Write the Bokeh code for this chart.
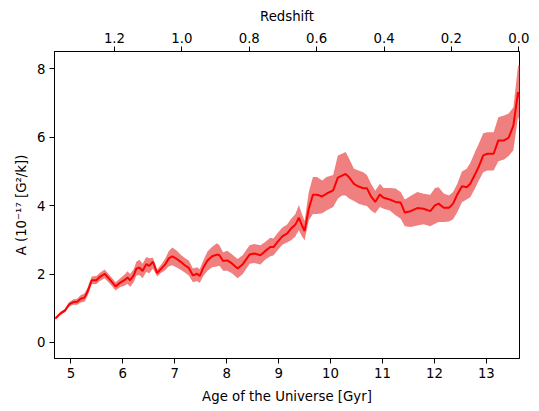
from bokeh.plotting import figure
from bokeh.models import Range1d, LinearAxis, FixedTicker, PrintfTickFormatter, ColumnDataSource
from bokeh.embed import file_html
from bokeh.resources import INLINE

# Age of the Universe [Gyr]
age = [4.70, 4.80, 4.89, 4.97, 5.05, 5.12, 5.19, 5.26, 5.32, 5.40, 5.49, 5.56, 5.65, 5.76, 5.86, 5.95,
       6.03, 6.09, 6.14, 6.21, 6.26, 6.32, 6.38, 6.45, 6.51, 6.58, 6.66, 6.74, 6.82, 6.88, 6.95, 7.03,
       7.12, 7.20, 7.27, 7.35, 7.43, 7.48, 7.55, 7.63, 7.72, 7.81, 7.86, 7.93, 8.01, 8.10, 8.21, 8.31,
       8.44, 8.53, 8.65, 8.74, 8.84, 8.90, 8.98, 9.07, 9.16, 9.24, 9.32, 9.39, 9.45, 9.50, 9.58, 9.66,
       9.74, 9.84, 9.92, 10.05, 10.14, 10.22, 10.29, 10.35, 10.45, 10.54, 10.63, 10.70, 10.78, 10.86,
       10.95, 11.02, 11.14, 11.25, 11.35, 11.43, 11.54, 11.67, 11.79, 11.92, 12.01, 12.08, 12.18, 12.28,
       12.36, 12.44, 12.53, 12.62, 12.69, 12.78, 12.85, 12.94, 13.02, 13.14, 13.23, 13.34, 13.43, 13.52,
       13.61, 13.64]

a_mean = [0.70, 0.85, 0.94, 1.12, 1.18, 1.19, 1.28, 1.31, 1.48, 1.82, 1.82, 1.92, 2.01, 1.82, 1.64, 1.75,
          1.82, 1.90, 1.82, 1.96, 2.16, 2.19, 2.09, 2.29, 2.24, 2.36, 2.03, 2.16, 2.29, 2.45, 2.52, 2.45,
          2.35, 2.25, 2.18, 1.96, 2.01, 1.94, 2.19, 2.40, 2.52, 2.57, 2.55, 2.38, 2.40, 2.31, 2.16, 2.29,
          2.57, 2.60, 2.55, 2.67, 2.79, 2.79, 2.94, 3.10, 3.18, 3.33, 3.44, 3.65, 3.42, 3.26, 3.91, 4.32,
          4.32, 4.27, 4.35, 4.45, 4.82, 4.88, 4.93, 4.84, 4.64, 4.56, 4.51, 4.51, 4.27, 4.11,
          4.33, 4.23, 4.18, 4.11, 4.09, 3.80, 3.84, 3.93, 3.91, 3.84, 4.01, 4.06, 3.94, 3.94,
          4.06, 4.33, 4.57, 4.54, 4.64, 4.91, 5.13, 5.47, 5.52, 5.52, 5.91, 5.91, 5.99, 6.34,
          7.32, 7.17]

a_lower = [0.66, 0.80, 0.89, 1.05, 1.10, 1.10, 1.17, 1.19, 1.36, 1.70, 1.71, 1.80, 1.88, 1.70, 1.52, 1.62,
           1.66, 1.72, 1.62, 1.76, 1.96, 1.97, 1.88, 2.06, 2.02, 2.16, 1.93, 2.04, 2.12, 2.22, 2.26, 2.20,
           2.12, 2.04, 1.96, 1.76, 1.80, 1.74, 1.94, 2.10, 2.20, 2.22, 2.24, 2.10, 2.10, 2.02, 1.88, 2.00,
           2.30, 2.32, 2.28, 2.42, 2.52, 2.54, 2.70, 2.86, 2.92, 2.99, 3.10, 3.28, 3.10, 2.99, 3.57, 3.76,
           3.76, 3.78, 3.86, 3.96, 4.20, 4.30, 4.30, 4.22, 4.14, 4.06, 4.01, 3.99, 3.86, 3.78,
           3.96, 3.91, 3.86, 3.72, 3.62, 3.40, 3.38, 3.42, 3.46, 3.40, 3.47, 3.52, 3.52, 3.54,
           3.60, 3.81, 4.10, 4.18, 4.25, 4.50, 4.72, 4.98, 5.03, 5.03, 5.30, 5.35, 5.45, 5.62,
           6.60, 6.44]

a_upper = [0.74, 0.90, 0.99, 1.18, 1.26, 1.28, 1.39, 1.43, 1.60, 1.93, 1.94, 2.04, 2.13, 1.94, 1.76, 1.88,
           1.98, 2.08, 2.00, 2.14, 2.36, 2.42, 2.30, 2.50, 2.46, 2.48, 2.13, 2.28, 2.46, 2.66, 2.78, 2.70,
           2.56, 2.46, 2.40, 2.16, 2.20, 2.14, 2.40, 2.66, 2.80, 2.90, 2.84, 2.64, 2.68, 2.58, 2.44, 2.56,
           2.84, 2.88, 2.84, 2.94, 3.06, 3.04, 3.20, 3.36, 3.44, 3.62, 3.75, 4.02, 3.75, 3.55, 4.40, 4.84,
           4.84, 4.74, 4.84, 4.90, 5.47, 5.52, 5.57, 5.40, 5.08, 5.03, 4.98, 4.90, 4.64, 4.44,
           4.64, 4.52, 4.52, 4.50, 4.40, 4.18, 4.28, 4.40, 4.35, 4.32, 4.52, 4.54, 4.36, 4.30,
           4.40, 4.64, 5.00, 5.08, 5.25, 5.57, 5.80, 6.12, 6.15, 6.15, 6.59, 6.64, 6.70, 6.88,
           8.10, 8.10]

age_ticks = [5, 6, 7, 8, 9, 10, 11, 12, 13]
y_ticks = [0, 2, 4, 6, 8]
z_ticks = [1.2, 1.0, 0.8, 0.6, 0.4, 0.2, 0.0]

FONT = "DejaVu Sans"
FS = "13.3px"

src = ColumnDataSource(dict(age=age, mean=a_mean, lo=a_lower, hi=a_upper))

p = figure(width=539, height=411, output_backend="svg", toolbar_location=None,
           x_range=Range1d(4.684, 13.638), y_range=Range1d(-0.47, 8.51),
           min_border_left=54, min_border_right=20, min_border_top=51, min_border_bottom=53)
p.background_fill_color = "white"
p.border_fill_color = "white"
p.outline_line_color = "black"
p.outline_line_width = 1
p.xgrid.visible = False
p.ygrid.visible = False

bottom = p.below[0]
left = p.left[0]

p.varea(x="age", y1="lo", y2="hi", source=src, fill_color="#f08080", fill_alpha=1.0)
p.line(x="age", y="mean", source=src, line_color="#ff0000", line_width=2)

p.extra_x_ranges = {"z": Range1d(1.378, -0.002)}
top = LinearAxis(x_range_name="z", axis_label="Redshift")
p.add_layout(top, "above")

for ax in [bottom, left, top]:
    ax.major_label_text_font = FONT
    ax.major_label_text_font_size = FS
    ax.major_label_text_color = "black"
    ax.axis_label_text_font = FONT
    ax.axis_label_text_font_size = FS
    ax.axis_label_text_font_style = "normal"
    ax.axis_label_text_color = "black"
    ax.axis_line_color = "black"
    ax.major_tick_line_color = "black"
    ax.major_tick_out = 5
    ax.major_tick_in = 0
    ax.minor_tick_line_color = None
    ax.major_label_standoff = 4
    ax.axis_label_standoff = 5

bottom.axis_label_standoff = 8
top.axis_label_standoff = 6

bottom.ticker = FixedTicker(ticks=age_ticks)
bottom.axis_label = "Age of the Universe [Gyr]"
left.ticker = FixedTicker(ticks=y_ticks)
left.axis_label = "A (10⁻¹⁷ [G²/k])"
top.ticker = FixedTicker(ticks=z_ticks)
top.formatter = PrintfTickFormatter(format="%.1f")

open("out.html", "w").write(file_html(p, INLINE))
